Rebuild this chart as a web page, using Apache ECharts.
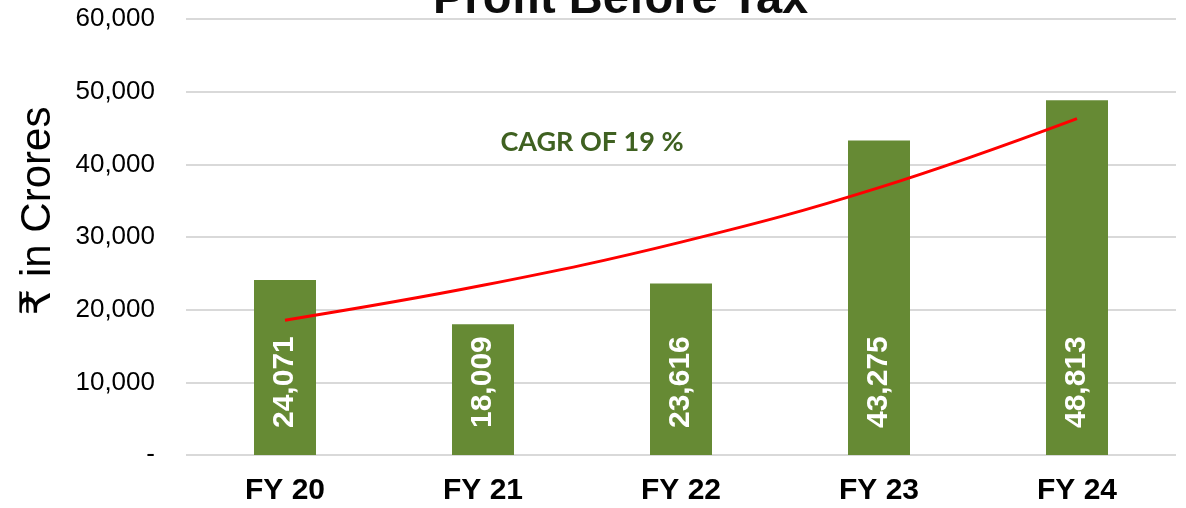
<!DOCTYPE html>
<html lang="en">
<head>
    <meta charset="UTF-8">
    <title>Profit Before Tax</title>
    <style>
        html, body { margin: 0; padding: 0; background: #fff; }
    </style>
</head>
<body>
<div id="chart1" style="width:1186px; height:508px;"></div>
<script type="text/javascript" src="https://cdn.jsdelivr.net/npm/echarts@6/dist/echarts.min.js"></script>
<script type="text/javascript">
    // data
    var years = ['FY 20', 'FY 21', 'FY 22', 'FY 23', 'FY 24'];
    var pbt = [24071, 18009, 23616, 43275, 48813];
    // red trend curve, read at each year
    var trend = [18550, 23350, 29300, 36800, 46300];
    var cagrText = 'CAGR OF 19 %';

    var fmt = function (v) {
        if (v === 0) return '-';
        return v.toLocaleString('en-US');
    };

    var option = {
        animation: false,
        title: {
            text: 'Profit Before Tax',
            left: 433,
            top: -23,
            padding: 0,
            textStyle: {
                fontFamily: 'Liberation Sans',
                fontSize: 47,
                fontWeight: 'bold',
                color: '#0d0d0d',
                lineHeight: 47
            }
        },
        grid: {
            left: 186,
            right: 10,
            top: 19,
            bottom: 53
        },
        xAxis: {
            type: 'category',
            data: years,
            axisLine: { show: false },
            axisTick: { show: false },
            axisLabel: {
                margin: 21,
                fontFamily: 'Liberation Sans',
                fontSize: 30,
                fontWeight: 'bold',
                color: '#000'
            }
        },
        yAxis: {
            type: 'value',
            min: 0,
            max: 60000,
            interval: 10000,
            axisLine: { show: false },
            axisTick: { show: false },
            splitLine: { lineStyle: { color: '#d9d9d9', width: 2 } },
            axisLabel: {
                margin: 31,
                fontFamily: 'Liberation Sans',
                fontSize: 26,
                color: '#000',
                formatter: fmt
            }
        },
        graphic: [
            {
                type: 'text',
                x: 38,
                y: 211,
                rotation: Math.PI / 2,
                style: {
                    text: '₹ in Crores',
                    fontFamily: 'Liberation Sans, DejaVu Sans',
                    fontSize: 42,
                    fill: '#000',
                    textAlign: 'center',
                    textVerticalAlign: 'middle'
                }
            },
            {
                type: 'text',
                x: 592,
                y: 142,
                style: {
                    text: cagrText,
                    fontFamily: 'Lato',
                    fontSize: 27,
                    fontWeight: 'bold',
                    fill: '#3f6121',
                    textAlign: 'center',
                    textVerticalAlign: 'middle'
                }
            }
        ],
        series: [
            {
                name: 'PBT',
                type: 'bar',
                data: pbt,
                barWidth: 62,
                itemStyle: { color: '#668a34' },
                label: {
                    show: true,
                    position: 'insideBottom',
                    rotate: 90,
                    align: 'left',
                    verticalAlign: 'middle',
                    distance: 27,
                    fontFamily: 'Liberation Sans',
                    fontSize: 30,
                    fontWeight: 'bold',
                    color: '#fff',
                    formatter: function (p) { return fmt(p.value); }
                }
            },
            {
                name: 'Trend',
                type: 'line',
                data: trend,
                smooth: 0.4,
                symbol: 'none',
                lineStyle: { color: '#ff0000', width: 3 },
                z: 5
            }
        ]
    };

    var myChart = echarts.init(document.getElementById('chart1'));
    myChart.setOption(option);
</script>
</body>
</html>
